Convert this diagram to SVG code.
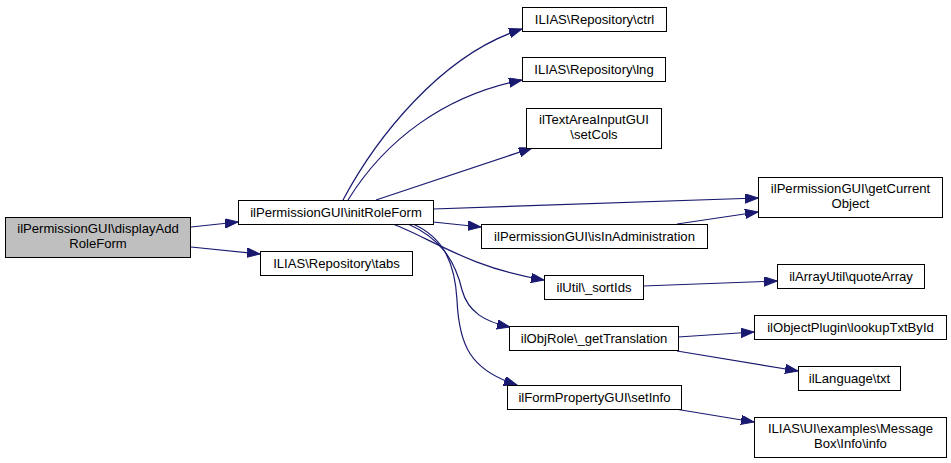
<svg xmlns="http://www.w3.org/2000/svg" width="951" height="463" viewBox="0 0 951 463">
<defs>
<style>
.node rect{fill:#ffffff;stroke:#000000;stroke-width:1}
.node.main rect{fill:#bfbfbf}
.node text{font-family:"Liberation Sans",Arial,sans-serif;font-size:13.1px;fill:#000000;text-anchor:middle}
.edges path{fill:none;stroke:#191970;stroke-width:1.2;marker-end:url(#arr)}
</style>
<marker id="arr" markerUnits="userSpaceOnUse" markerWidth="14" markerHeight="10" refX="13" refY="4.7" orient="auto">
<path d="M0,0 L13,4.7 L0,9.4 z" fill="#191970" stroke="#191970" stroke-width="1"/>
</marker>
</defs>
<rect x="0" y="0" width="951" height="463" fill="#ffffff"/>
<g class="edges">
<path d="M191,227 L238,222"/>
<path d="M191,247 L260,254"/>
<path d="M343,200 C375,140 440,55 522,29"/>
<path d="M348,200 C385,140 445,95 522,80"/>
<path d="M376,200 L532,148"/>
<path d="M433,209 L758,198"/>
<path d="M433,222 L481,227"/>
<path d="M677,224 L758,212"/>
<path d="M393,224 C430,238 470,268 544,280"/>
<path d="M408,224 C440,238 455,260 462,290 C468,312 485,322 510,327"/>
<path d="M413,224 C445,238 455,265 457,300 C459,345 470,370 517,385"/>
<path d="M643,286 L777,281"/>
<path d="M678,337 L754,332"/>
<path d="M677,351 L798,371"/>
<path d="M675,409 L754,422"/>
</g>
<g id="n0" class="node main"><rect x="5.5" y="217.5" width="185" height="40"/><text x="98" y="233">ilPermissionGUI\displayAdd</text><text x="98" y="248">RoleForm</text></g>
<g id="n1" class="node"><rect x="238.5" y="200.5" width="195" height="24"/><text x="336" y="216.5">ilPermissionGUI\initRoleForm</text></g>
<g id="n2" class="node"><rect x="260.5" y="251.5" width="152" height="24"/><text x="336.5" y="267.5">ILIAS\Repository\tabs</text></g>
<g id="n3" class="node"><rect x="522.5" y="7.5" width="144" height="24"/><text x="594.5" y="23.5">ILIAS\Repository\ctrl</text></g>
<g id="n4" class="node"><rect x="522.5" y="57.5" width="143" height="24"/><text x="594" y="73.5">ILIAS\Repository\lng</text></g>
<g id="n5" class="node"><rect x="526.5" y="108.5" width="135" height="40"/><text x="594" y="124">ilTextAreaInputGUI</text><text x="594" y="139">\setCols</text></g>
<g id="n6" class="node"><rect x="758.5" y="177.5" width="184" height="40"/><text x="850.5" y="193">ilPermissionGUI\getCurrent</text><text x="850.5" y="208">Object</text></g>
<g id="n7" class="node"><rect x="481.5" y="224.5" width="226" height="24"/><text x="594.5" y="240.5">ilPermissionGUI\isInAdministration</text></g>
<g id="n8" class="node"><rect x="544.5" y="275.5" width="99" height="24"/><text x="594" y="291.5">ilUtil\_sortIds</text></g>
<g id="n9" class="node"><rect x="777.5" y="264.5" width="147" height="24"/><text x="851" y="280.5">ilArrayUtil\quoteArray</text></g>
<g id="n10" class="node"><rect x="509.5" y="326.5" width="169" height="24"/><text x="594" y="342.5">ilObjRole\_getTranslation</text></g>
<g id="n11" class="node"><rect x="507.5" y="385.5" width="174" height="24"/><text x="594.5" y="401.5">ilFormPropertyGUI\setInfo</text></g>
<g id="n12" class="node"><rect x="754.5" y="315.5" width="192" height="24"/><text x="850.5" y="331.5">ilObjectPlugin\lookupTxtById</text></g>
<g id="n13" class="node"><rect x="798.5" y="366.5" width="102" height="24"/><text x="849.5" y="382.5">ilLanguage\txt</text></g>
<g id="n14" class="node"><rect x="754.5" y="417.5" width="192" height="40"/><text x="850.5" y="433">ILIAS\UI\examples\Message</text><text x="850.5" y="448">Box\Info\info</text></g>
</svg>
